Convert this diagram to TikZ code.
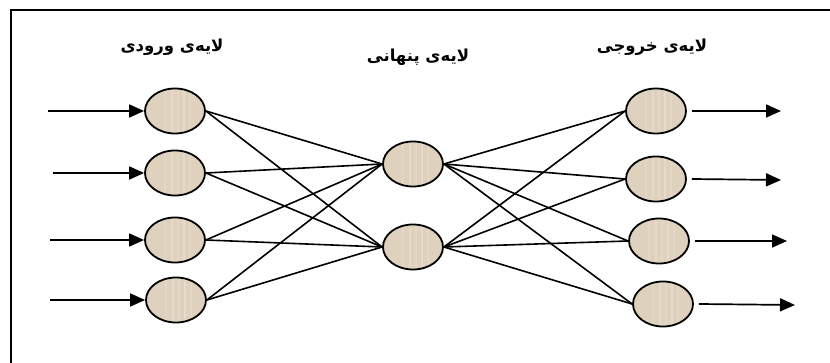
\documentclass[tikz,border=0pt]{standalone}
\usepackage{fontspec}
\newfontfamily\arabicfont[Script=Arabic,BoldFont={DejaVu Sans Bold}]{DejaVu Sans}
\TeXXeTstate=1
\usetikzlibrary{arrows.meta,shapes.geometric}
\definecolor{cellfill}{RGB}{222,209,189}
\definecolor{cellstripe}{RGB}{238,230,216}
\tikzset{
  neuron/.style={ellipse, draw=black, line width=1.8pt, fill=cellfill,
    minimum width=60pt, minimum height=45pt, inner sep=0pt,
    path picture={
      \foreach \dx/\op in {-10/0.3,-3/0.45,3/0.35,9/0.5,15/0.3}
        \draw[cellstripe, line width=2pt, opacity=\op]
          ([xshift=\dx pt]path picture bounding box.north) --
          ([xshift=\dx pt]path picture bounding box.south);
    }},
  link/.style={line width=1.6pt},
  flow/.style={line width=1.7pt, -{Triangle[length=15pt,width=13pt]}},
  title/.style={font=\arabicfont\bfseries\fontsize{16.5}{18}\selectfont}
}
\begin{document}
\begin{tikzpicture}[x=1pt,y=-1pt]
\useasboundingbox (0,0) rectangle (830,363);
% frame
\draw[line width=1.8pt] (11,363) -- (11,10) -- (830,10);

% layer titles
\node[title] (tin)  at (172,47) {\beginR لایه‌ی ورودی\endR};
\node[title] (thid) at (418,57) {\beginR لایه‌ی پنهانی\endR};
\node[title] (tout) at (652,47) {\beginR لایه‌ی خروجی\endR};

% input layer
\node[neuron] (i1) at (175,111) {};
\node[neuron] (i2) at (175,173) {};
\node[neuron] (i3) at (175,240) {};
\node[neuron] (i4) at (176,300) {};
% hidden layer
\node[neuron] (h1) at (413,164) {};
\node[neuron] (h2) at (413,247) {};
% output layer
\node[neuron] (o1) at (656,111) {};
\node[neuron] (o2) at (656,179) {};
\node[neuron] (o3) at (659,241) {};
\node[neuron] (o4) at (663,304) {};

% free ends of the input and output arrows
\coordinate (a1) at (48,111);
\coordinate (a2) at (53,173);
\coordinate (a3) at (50,240);
\coordinate (a4) at (50,300);
\coordinate (b1) at (781,111);
\coordinate (b2) at (781,180);
\coordinate (b3) at (787,241);
\coordinate (b4) at (795,305);

% input -> hidden
\foreach \i in {1,2,3,4}
  \foreach \h in {1,2}
    \draw[link] (i\i.east) -- (h\h.west);
% hidden -> output
\foreach \h in {1,2}
  \foreach \o in {1,2,3,4}
    \draw[link] (h\h.east) -- (o\o.west);

% incoming and outgoing signals
\foreach \k in {1,2,3,4} {
  \draw[flow] (a\k) -- (i\k.west);
  \draw[flow] ([xshift=5pt]o\k.east) -- (b\k);
}
\end{tikzpicture}
\end{document}
